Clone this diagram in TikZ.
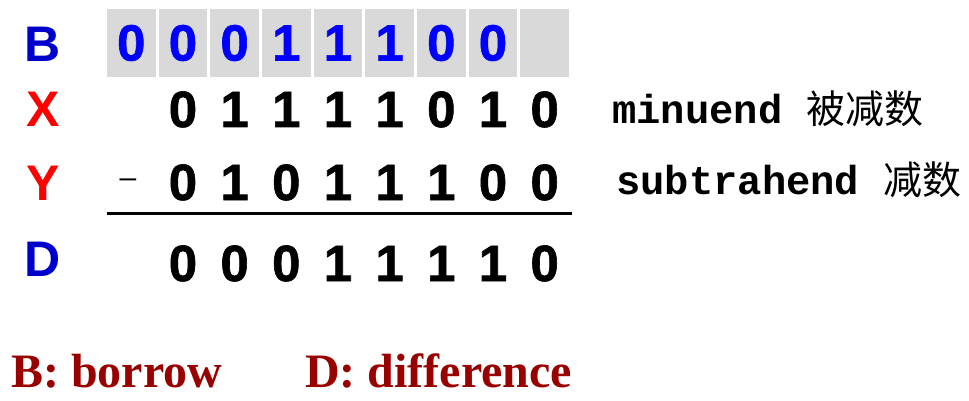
\documentclass[tikz,border=0pt]{standalone}
\usepackage{fontspec}
\setmainfont{Liberation Serif}
\setsansfont{Liberation Sans}
\setmonofont{Liberation Mono}
\newfontfamily\cjk{Noto Sans CJK SC}
\newfontfamily\bitfont{Liberation Sans Bold}[FakeBold=1.2]
\usetikzlibrary{positioning}
\definecolor{bitblue}{HTML}{0000FF}
\definecolor{labblue}{HTML}{0000CC}
\definecolor{labred}{HTML}{FF0000}
\definecolor{boxgray}{HTML}{D9D9D9}
\definecolor{notered}{HTML}{990000}

\begin{document}
\begin{tikzpicture}[x=1pt,y=-1pt,inner sep=0pt]
    \useasboundingbox (0,0) rectangle (969,401);
    % row labels
    \node[labblue,font=\sffamily\bfseries\fontsize{50}{50}\selectfont,anchor=base] (lb) at (43,62) {B};
    \node[labred,font=\sffamily\bfseries\fontsize{50}{50}\selectfont,anchor=base] (lx) at (43,127) {X};
    \node[labred,font=\sffamily\bfseries\fontsize{50}{50}\selectfont,anchor=base] (ly) at (43,200) {Y};
    \node[labblue,font=\sffamily\bfseries\fontsize{50}{50}\selectfont,anchor=base] (ld) at (43,276) {D};
    % borrow cells
    \foreach \d [count=\i] in {0,0,0,1,1,1,0,0,{}}
      \node[fill=boxgray,minimum width=48.5pt,minimum height=68pt,text=bitblue,font=\bitfont\fontsize{51}{51}\selectfont] (cell\i) at ({79.6+51.67*\i},43) {\d};
    % minuend, subtrahend, difference
    \foreach \d [count=\i] in {0,1,1,1,1,0,1,0}
      \node[font=\bitfont\fontsize{51}{51}\selectfont,anchor=base] (x\i) at ({131.3+51.67*\i},127) {\d};
    \foreach \d [count=\i] in {0,1,0,1,1,1,0,0}
      \node[font=\bitfont\fontsize{51}{51}\selectfont,anchor=base] (y\i) at ({131.3+51.67*\i},200) {\d};
    \foreach \d [count=\i] in {0,0,0,1,1,1,1,0}
      \node[font=\bitfont\fontsize{51}{51}\selectfont,anchor=base] (d\i) at ({131.3+51.67*\i},281) {\d};
    \node[font=\sffamily\fontsize{30}{30}\selectfont] (minus) at (128,183) {--};
    \coordinate (rl) at (107,213);
    \coordinate (rr) at (572,213);
    \draw[line width=3pt] (rl) -- (rr);
    % notes on the right
    \node[anchor=base west,font=\ttfamily\bfseries\fontsize{40.5}{40.5}\selectfont] (mn) at (612,124) {minuend {\cjk\mdseries\fontsize{39}{39}\selectfont 被减数}};
    \node[anchor=base west,font=\ttfamily\bfseries\fontsize{40.5}{40.5}\selectfont] (sb) at (616,194) {subtrahend {\cjk\mdseries\fontsize{39}{39}\selectfont 减数}};
    % legend
    \node[notered,anchor=base west,font=\rmfamily\bfseries\fontsize{48}{48}\selectfont] (kb) at (11,387) {B: borrow};
    \node[notered,anchor=base west,font=\rmfamily\bfseries\fontsize{48}{48}\selectfont] (kd) at (305,387) {D: difference};
\end{tikzpicture}
\end{document}
